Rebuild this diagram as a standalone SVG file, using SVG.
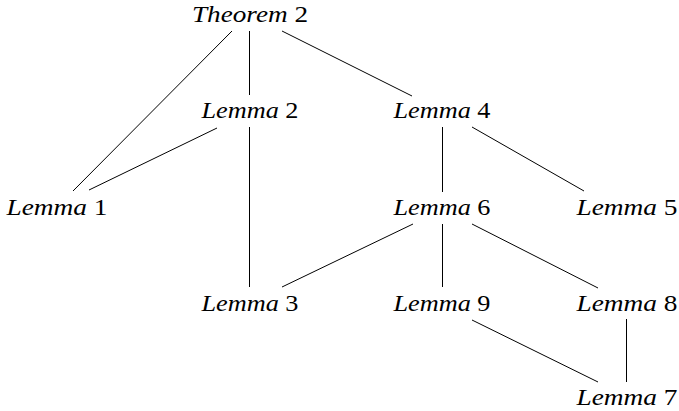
<svg xmlns="http://www.w3.org/2000/svg" width="679" height="411" viewBox="0 0 679 411">
  <style>
    .lbl { font-size: 23px; fill: #000; text-anchor: middle; }
    .it { font-style: italic; }
    .edge { stroke: #000; stroke-width: 1; fill: none; }
  </style>
  <rect width="679" height="411" fill="#fff"/>
  <g id="connectors">
    <line class="edge" x1="232" y1="31" x2="73" y2="191"/>
    <line class="edge" x1="249.5" y1="31" x2="249.5" y2="95"/>
    <line class="edge" x1="282" y1="31" x2="412" y2="96"/>
    <line class="edge" x1="217" y1="128" x2="89" y2="190"/>
    <line class="edge" x1="249.5" y1="127" x2="249.5" y2="287"/>
    <line class="edge" x1="442.5" y1="127" x2="442.5" y2="192"/>
    <line class="edge" x1="472" y1="127" x2="584" y2="191"/>
    <line class="edge" x1="413" y1="224" x2="282" y2="287"/>
    <line class="edge" x1="442.5" y1="224" x2="442.5" y2="287"/>
    <line class="edge" x1="472" y1="224" x2="598" y2="288"/>
    <line class="edge" x1="472" y1="320" x2="598" y2="382"/>
    <line class="edge" x1="626.5" y1="319" x2="626.5" y2="382"/>
  </g>
  <g font-family="Liberation Serif, DejaVu Serif, serif">
  <g id="theorem2"><text class="lbl" x="250" y="22" textLength="116" lengthAdjust="spacingAndGlyphs"><tspan class="it">Theorem</tspan> 2</text></g>
  <g id="lemma2"><text class="lbl" x="250" y="118" textLength="97" lengthAdjust="spacingAndGlyphs"><tspan class="it">Lemma</tspan> 2</text></g>
  <g id="lemma4"><text class="lbl" x="442" y="118" textLength="97" lengthAdjust="spacingAndGlyphs"><tspan class="it">Lemma</tspan> 4</text></g>
  <g id="lemma1"><text class="lbl" x="57" y="215" textLength="101" lengthAdjust="spacingAndGlyphs"><tspan class="it">Lemma</tspan> 1</text></g>
  <g id="lemma6"><text class="lbl" x="442" y="215" textLength="97" lengthAdjust="spacingAndGlyphs"><tspan class="it">Lemma</tspan> 6</text></g>
  <g id="lemma5"><text class="lbl" x="627" y="215" textLength="101" lengthAdjust="spacingAndGlyphs"><tspan class="it">Lemma</tspan> 5</text></g>
  <g id="lemma3"><text class="lbl" x="250" y="311" textLength="97" lengthAdjust="spacingAndGlyphs"><tspan class="it">Lemma</tspan> 3</text></g>
  <g id="lemma9"><text class="lbl" x="442" y="311" textLength="97" lengthAdjust="spacingAndGlyphs"><tspan class="it">Lemma</tspan> 9</text></g>
  <g id="lemma8"><text class="lbl" x="627" y="311" textLength="101" lengthAdjust="spacingAndGlyphs"><tspan class="it">Lemma</tspan> 8</text></g>
  <g id="lemma7"><text class="lbl" x="627" y="405" textLength="101" lengthAdjust="spacingAndGlyphs"><tspan class="it">Lemma</tspan> 7</text></g>
  </g>
</svg>
